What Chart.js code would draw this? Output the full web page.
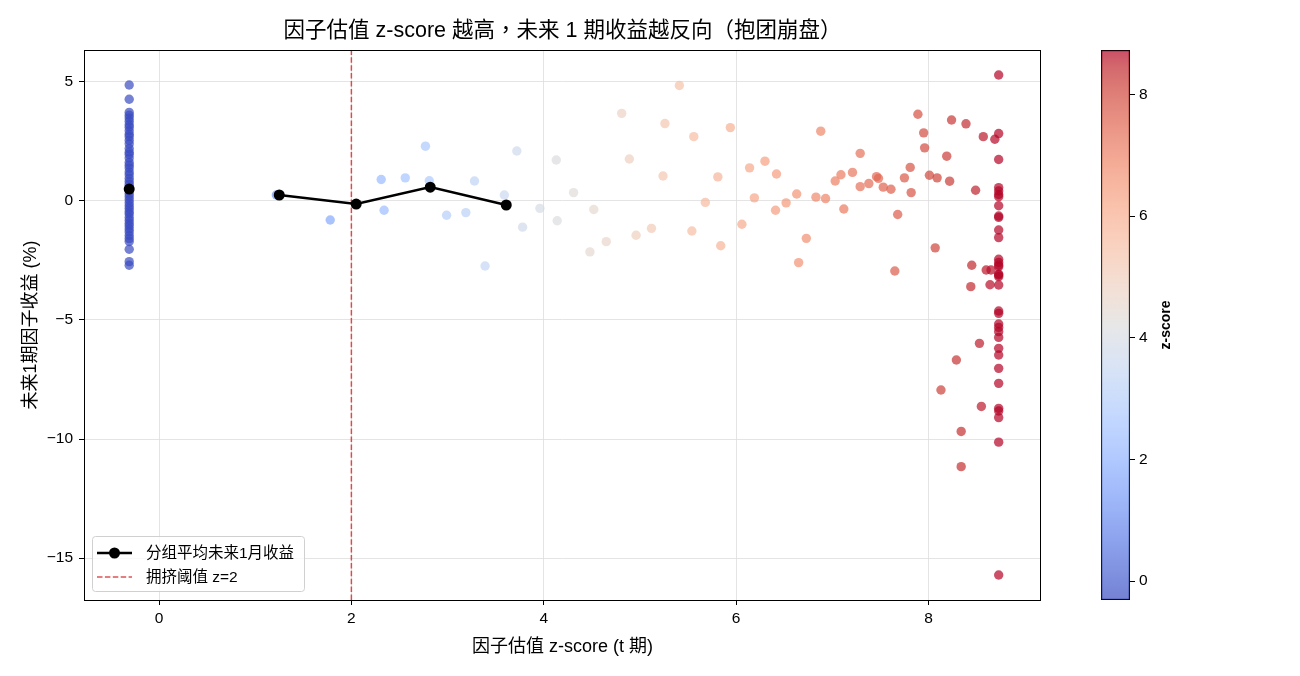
<!DOCTYPE html>
<html>
<head>
<meta charset="utf-8">
<script src="https://cdn.jsdelivr.net/npm/chart.js@4.4.1/dist/chart.umd.min.js"></script>
<style>
html, body { margin: 0; padding: 0; background: #fff; }
#wrap { position: relative; width: 1300px; height: 676px; }
#main { position: absolute; left: 0; top: 0; }
#cbar { position: absolute; left: 1091px; top: 0; }
</style>
</head>
<body>
<div id="wrap">
  <canvas id="main" width="1300" height="676"></canvas>
  <canvas id="cbar" width="209" height="676"></canvas>
</div>
<script>
// ===== data =====
const leftX = -0.31;
const leftY = [4.87, 4.27, 3.72, 3.6, 3.48, 3.35, 3.2, 3.1, 2.95, 2.8, 2.7, 2.55, 2.4, 2.2, 2.05, 1.95,
    1.8, 1.62, 1.5, 1.38, 1.22, 1.1, 0.95, 0.82, 0.7, 0.55, 0.45, 0.3, 0.18, 0.05, -0.08, -0.2,
    -0.32, -0.45, -0.55, -0.7, -0.82, -0.95, -1.05, -1.18, -1.3, -1.45, -1.58, -1.7, -2.03, -2.55, -2.7];

const midX = [1.22, 1.78, 2.31, 2.34, 2.56, 2.77, 2.81, 2.99, 3.19, 3.28, 3.39, 3.59, 3.72, 3.78, 3.96,
    4.13, 4.14, 4.31, 4.48, 4.52, 4.65, 4.81, 4.89, 4.96, 5.12, 5.24, 5.26, 5.41, 5.54, 5.56, 5.68,
    5.81, 5.84, 5.94, 6.06, 6.14, 6.19, 6.30, 6.41, 6.42, 6.52, 6.63, 6.65, 6.73, 6.83, 6.88, 6.93,
    7.03, 7.09, 7.12, 7.21, 7.29, 7.29, 7.38, 7.46, 7.48, 7.53, 7.61, 7.65, 7.68, 7.75, 7.81, 7.82,
    7.89, 7.95, 7.96, 8.01, 8.07, 8.09, 8.13, 8.19, 8.22, 8.24, 8.29, 8.34, 8.34, 8.39, 8.44, 8.45,
    8.49, 8.53, 8.55, 8.57, 8.60, 8.64, 8.65, 8.69];
const midY = [0.25, -0.8, 0.9, -0.39, 0.97, 2.3, 0.85, -0.6, -0.49, 0.84, -2.73, 0.25, 2.1, -1.1, -0.31,
    1.72, -0.83, 0.35, -2.14, -0.36, -1.71, 3.68, 1.76, -1.44, -1.15, 1.05, 3.25, 4.85, -1.26, 2.7, -0.06,
    1.01, -1.88, 3.08, -0.98, 1.39, 0.13, 1.67, -0.39, 1.13, -0.08, 0.29, -2.59, -1.57, 0.16, 2.93, 0.1,
    0.84, 1.1, -0.34, 1.2, 2.0, 0.6, 0.73, 1.02, 0.95, 0.58, 0.49, -2.94, -0.57, 0.97, 1.41, 0.35,
    3.64, 2.86, 2.23, 1.08, -1.97, 0.97, -7.94, 1.88, 0.83, 3.4, -6.68, -9.68, -11.16, 3.24, -3.6, -2.7,
    0.45, -5.98, -8.63, 2.7, -2.9, -3.52, -2.9, 2.59];

const rightX = 8.73;
const rightY = [5.29, 2.83, 1.74, 0.56, 0.42, 0.27, 0.18, -0.2, -0.63, -0.69, -1.22, -1.54, -2.45, -2.58,
    -2.69, -2.76, -3.07, -3.11, -3.18, -3.53, -4.62, -4.72, -5.17, -5.31, -5.49, -5.73, -6.19, -6.47,
    -7.03, -7.66, -8.71, -8.82, -9.1, -10.13, -15.71];

// group means (the empty bin shows as a gap)
const groupX = [-0.31, 0.45, 1.25, 2.05, 2.82, 3.61];
const groupY = [0.5, null, 0.25, -0.13, 0.58, -0.17];

const threshold = 2;

const xTicks = [0, 2, 4, 6, 8];
const yTicks = [-15, -10, -5, 0, 5];
const cbTicks = [0, 2, 4, 6, 8];
const xMin = -0.78, xMax = 9.17;
const yMin = -16.76, yMax = 6.34;
const cMin = -0.31, cMax = 8.73;

// ===== coolwarm colormap =====
const CW = [[59,76,192],[68,90,204],[77,104,215],[87,117,225],[98,130,234],[108,142,241],[119,154,247],
    [130,165,251],[141,176,254],[152,185,255],[163,194,255],[174,201,253],[184,208,249],[194,213,244],
    [204,217,238],[213,219,230],[221,221,221],[229,216,209],[236,211,197],[241,204,185],[245,196,173],
    [247,187,160],[247,177,148],[247,166,135],[244,154,123],[241,141,111],[236,127,99],[229,112,88],
    [222,96,77],[213,80,66],[203,62,56],[192,40,47],[180,4,38]];

function coolwarm(t, a) {
    t = Math.max(0, Math.min(1, t));
    const p = t * 32;
    const i = Math.min(31, Math.floor(p));
    const f = p - i;
    const c = [0, 1, 2].map(k => Math.round(CW[i][k] + (CW[i + 1][k] - CW[i][k]) * f));
    return `rgba(${c[0]},${c[1]},${c[2]},${a})`;
}
const zColor = (z) => coolwarm((z - cMin) / (cMax - cMin), 0.7);

// matplotlib style minus sign
const fmtTick = (v) => (v < 0 ? "\u2212" + Math.abs(v) : String(v));

// ===== build points =====
const points = [];
leftY.forEach(y => points.push({ x: leftX, y: y }));
midX.forEach((x, i) => points.push({ x: x, y: midY[i] }));
rightY.forEach(y => points.push({ x: rightX, y: y }));

const FONT = '"Liberation Sans", Arial, "Noto Sans CJK SC", sans-serif';
const TITLE_FONT = '"Liberation Sans", Arial, "Noto Sans CJK TC", sans-serif';
Chart.defaults.font.family = FONT;
Chart.defaults.color = '#000';

// ===== plugins =====
const framePlugin = {
    id: "frame",
    afterDraw(chart) {
        const { ctx, chartArea: a } = chart;
        ctx.save();
        ctx.strokeStyle = "#000";
        ctx.lineWidth = 1;
        ctx.strokeRect(Math.round(a.left) + 0.5, Math.round(a.top) + 0.5,
            Math.round(a.right - a.left) - 1, Math.round(a.bottom - a.top));
        ctx.restore();
    }
};

const titlePlugin = {
    id: "topTitle",
    afterDraw(chart) {
        const { ctx, chartArea: a } = chart;
        ctx.save();
        ctx.font = "21.5px " + TITLE_FONT;
        ctx.fillStyle = "#000";
        ctx.textAlign = "center";
        ctx.textBaseline = "middle";
        ctx.fillText("因子估值 z-score 越高，未来 1 期收益越反向（抱团崩盘）", (a.left + a.right) / 2, 31);
        ctx.restore();
    }
};

const legendPlugin = {
    id: "innerLegend",
    afterDraw(chart) {
        const { ctx, chartArea: a } = chart;
        const ds = chart.data.datasets;
        const bx = a.left + 8, by = a.bottom - 64, bw = 212, bh = 55;
        ctx.save();
        ctx.beginPath();
        ctx.roundRect(bx + 0.5, by + 0.5, bw, bh, 3);
        ctx.fillStyle = "rgba(255,255,255,0.8)";
        ctx.fill();
        ctx.strokeStyle = "#d0d0d0";
        ctx.lineWidth = 1;
        ctx.stroke();

        const items = [ds[0], ds[1]];
        items.forEach((d, i) => {
            const y = by + 17 + i * 24;
            ctx.beginPath();
            ctx.setLineDash(d.borderDash || []);
            ctx.strokeStyle = d.borderColor;
            ctx.lineWidth = d.borderWidth;
            ctx.moveTo(bx + 5, y);
            ctx.lineTo(bx + 40, y);
            ctx.stroke();
            ctx.setLineDash([]);
            if (d.pointRadius > 0) {
                ctx.beginPath();
                ctx.arc(bx + 22.5, y, d.pointRadius, 0, Math.PI * 2);
                ctx.fillStyle = d.pointBackgroundColor;
                ctx.fill();
            }
            ctx.font = "15.5px " + FONT;
            ctx.fillStyle = "#000";
            ctx.textAlign = "left";
            ctx.textBaseline = "middle";
            ctx.fillText(d.label, bx + 54, y + 1);
        });
        ctx.restore();
    }
};

// ===== main chart =====
new Chart(document.getElementById("main"), {
    type: "scatter",
    data: {
        datasets: [
            {
                type: "line",
                label: "分组平均未来1月收益",
                data: groupX.map((x, i) => ({ x: x, y: groupY[i] })),
                borderColor: "#000",
                backgroundColor: "#000",
                pointBackgroundColor: "#000",
                pointBorderWidth: 0,
                pointRadius: 5.5,
                borderWidth: 2.5,
                spanGaps: false,
                tension: 0,
                order: 0
            },
            {
                type: "line",
                label: "拥挤阈值 z=2",
                data: [{ x: threshold, y: yMin }, { x: threshold, y: yMax }],
                borderColor: "rgba(214,39,40,0.8)",
                borderDash: [5.5, 2.4],
                borderWidth: 1.5,
                pointRadius: 0,
                order: 1
            },
            {
                label: "points",
                data: points,
                backgroundColor: points.map(p => zColor(p.x)),
                pointRadius: 4.7,
                borderWidth: 0,
                order: 2
            }
        ]
    },
    options: {
        responsive: false,
        animation: false,
        layout: { padding: { top: 50, right: 259, left: 0, bottom: 0 } },
        plugins: { legend: { display: false }, tooltip: { enabled: false } },
        scales: {
            x: {
                type: "linear",
                min: xMin,
                max: xMax,
                afterBuildTicks: (s) => { s.ticks = xTicks.map(v => ({ value: v })); },
                afterFit: (s) => { s.height = 76; },
                grid: { color: "#dddddd", lineWidth: 0.8, tickColor: "#000", tickLength: 5, tickWidth: 1 },
                border: { display: false },
                ticks: { font: { size: 15.5 }, padding: 4, color: "#000", callback: fmtTick },
                title: { display: true, text: "因子估值 z-score (t 期)", font: { size: 18 }, padding: { bottom: 18 } }
            },
            y: {
                type: "linear",
                min: yMin,
                max: yMax,
                afterBuildTicks: (s) => { s.ticks = yTicks.map(v => ({ value: v })); },
                afterFit: (s) => { s.width = 84; },
                grid: { color: "#dddddd", lineWidth: 0.8, tickColor: "#000", tickLength: 5, tickWidth: 1 },
                border: { display: false },
                ticks: { font: { size: 15.5 }, padding: 6, color: "#000", callback: fmtTick },
                title: { display: true, text: "未来1期因子收益 (%)", font: { size: 18 }, padding: { top: 20 } }
            }
        }
    },
    plugins: [framePlugin, titlePlugin, legendPlugin]
});

// ===== colorbar =====
const cbLabelPlugin = {
    id: "cbLabel",
    afterDraw(chart) {
        const { ctx, chartArea: a } = chart;
        ctx.save();
        ctx.translate(75, (a.top + a.bottom) / 2);
        ctx.rotate(-Math.PI / 2);
        ctx.font = "bold 14px " + FONT;
        ctx.fillStyle = "#000";
        ctx.textAlign = "center";
        ctx.textBaseline = "middle";
        ctx.fillText("z-score", 0, 0);
        ctx.restore();
    }
};

new Chart(document.getElementById("cbar"), {
    type: "bar",
    data: {
        labels: ["z"],
        datasets: [{
            data: [[cMin, cMax]],
            backgroundColor: (c) => {
                const chart = c.chart;
                if (!chart.chartArea) return zColor((cMin + cMax) / 2);
                const ys = chart.scales.y;
                const g = chart.ctx.createLinearGradient(0, ys.getPixelForValue(cMin), 0, ys.getPixelForValue(cMax));
                for (let i = 0; i <= 32; i++) g.addColorStop(i / 32, coolwarm(i / 32, 0.7));
                return g;
            },
            borderColor: "#000",
            borderWidth: 1,
            borderSkipped: false,
            barPercentage: 1,
            categoryPercentage: 1
        }]
    },
    options: {
        responsive: false,
        animation: false,
        layout: { padding: { top: 50, bottom: 76, left: 10, right: 0 } },
        plugins: { legend: { display: false }, tooltip: { enabled: false } },
        scales: {
            x: { display: false },
            y: {
                position: "right",
                min: cMin,
                max: cMax,
                afterBuildTicks: (s) => { s.ticks = cbTicks.map(v => ({ value: v })); },
                afterFit: (s) => { s.width = 170; },
                grid: { drawOnChartArea: false, tickColor: "#000", tickLength: 5 },
                border: { display: false },
                ticks: { font: { size: 15.5 }, padding: 4, color: "#000" }
            }
        }
    },
    plugins: [cbLabelPlugin]
});
</script>
</body>
</html>
